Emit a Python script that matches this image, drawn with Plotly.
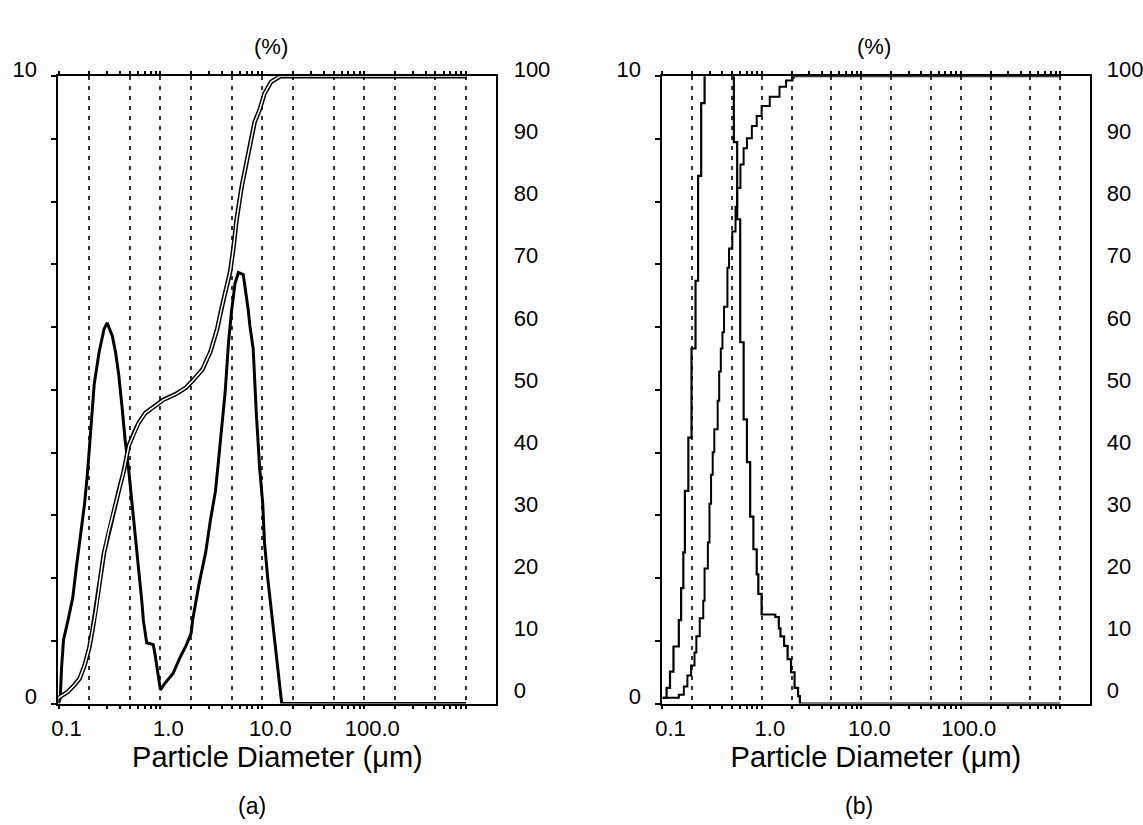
import plotly.graph_objects as go

FONT = "Liberation Sans, Arial, sans-serif"

# ---------------- data ----------------
# Panel (a): frequency (%) vs particle size (µm)
a_freq_size = [0.100, 0.104, 0.107, 0.112, 0.124, 0.138, 0.149, 0.167, 0.180, 0.193,
               0.208, 0.224, 0.250, 0.280, 0.300, 0.337, 0.363, 0.390, 0.420, 0.450,
               0.490, 0.525, 0.565, 0.610, 0.656, 0.680, 0.733, 0.850, 0.880, 0.950,
               1.000, 1.100, 1.330, 1.530, 1.780, 2.000, 2.070, 2.390, 2.780, 3.100,
               3.470, 3.730, 4.000, 4.330, 4.660, 5.000, 5.400, 5.820, 6.500, 7.000,
               7.280, 7.550, 8.130, 8.750, 9.420, 10.10, 10.50, 11.30, 12.20, 13.50,
               14.50, 15.50, 1000.0]
a_freq = [0.0, 0.09, 0.56, 1.02, 1.33, 1.69, 2.15, 2.72, 3.18, 3.70,
          4.42, 5.09, 5.60, 5.97, 6.07, 5.86, 5.60, 5.24, 4.73, 4.21,
          3.70, 3.18, 2.67, 2.15, 1.64, 1.33, 0.97, 0.94, 0.81, 0.45,
          0.22, 0.32, 0.48, 0.71, 0.92, 1.12, 1.33, 1.90, 2.41, 2.93,
          3.39, 3.90, 4.47, 4.99, 5.76, 6.27, 6.70, 6.87, 6.84, 6.48,
          6.27, 6.02, 5.66, 4.60, 3.75, 3.18, 2.57, 2.00, 1.53, 0.90,
          0.40, 0.0, 0.0]
# Panel (a): cumulative (%)
a_cum_size = [0.100, 0.107, 0.124, 0.144, 0.161, 0.180, 0.200, 0.216, 0.232, 0.260,
              0.280, 0.313, 0.350, 0.390, 0.436, 0.490, 0.550, 0.610, 0.710, 0.850,
              1.060, 1.430, 1.780, 2.070, 2.580, 3.100, 3.600, 4.000, 4.500, 4.840,
              5.200, 5.600, 6.270, 6.750, 7.550, 8.400, 9.400, 10.50, 12.20, 14.20,
              15.00, 1000.0]
a_cum = [0.0, 0.3, 1.0, 2.1, 3.1, 5.2, 8.0, 11.0, 14.0, 19.8,
         23.4, 27.0, 30.2, 33.3, 36.4, 40.6, 42.6, 44.2, 45.8, 46.8,
         47.9, 48.9, 49.9, 51.0, 52.8, 55.7, 59.3, 62.8, 66.5, 68.6,
         72.3, 77.0, 82.2, 84.8, 88.9, 92.6, 94.6, 97.2, 99.1, 99.7,
         100.0, 100.0]

# Panel (b): frequency (%) (stepped) and cumulative (%)
b_freq_size = [0.100, 0.110, 0.119, 0.129, 0.146, 0.154, 0.162, 0.168, 0.182, 0.196,
               0.215, 0.228, 0.245, 0.265, 0.284, 0.305, 0.327, 0.351, 0.377, 0.405,
               0.435, 0.467, 0.522, 0.564, 0.605, 0.655, 0.707, 0.762, 0.821, 0.887,
               0.920, 0.993, 1.364, 1.479, 1.537, 1.672, 1.814, 1.963, 2.131, 2.311,
               2.408, 1000.0]
b_freq = [0.09, 0.25, 0.51, 0.91, 1.33, 1.84, 2.41, 3.39, 4.24, 5.66,
          6.74, 8.41, 9.57, 11.2, 12.2, 12.8, 13.0, 12.7, 12.1, 11.4,
          10.8, 10.3, 8.95, 7.72, 5.76, 4.53, 3.85, 2.98, 2.46, 2.06,
          1.75, 1.42, 1.38, 1.20, 1.07, 0.92, 0.71, 0.50, 0.25, 0.12,
          0.0, 0.0]
b_cum_size = [0.100, 0.124, 0.146, 0.164, 0.178, 0.194, 0.210, 0.219, 0.237, 0.257,
              0.265, 0.286, 0.297, 0.308, 0.320, 0.332, 0.359, 0.372, 0.386, 0.401,
              0.416, 0.450, 0.467, 0.504, 0.543, 0.564, 0.608, 0.655, 0.707, 0.792,
              0.887, 0.993, 1.199, 1.503, 1.750, 2.030, 2.100, 1000.0]
b_cum = [0.0, 0.0, 0.5, 1.8, 3.6, 5.2, 7.3, 9.9, 12.8, 15.6,
         20.8, 25.0, 31.2, 35.9, 39.5, 43.2, 47.8, 52.5, 56.2, 58.8,
         62.9, 69.2, 72.3, 75.0, 79.0, 82.0, 85.8, 88.4, 90.0, 92.0,
         93.6, 95.2, 96.7, 98.3, 99.3, 99.8, 100.0, 100.0]

# Axis ticks / labels
x_label_vals = [0.1, 1, 10, 100]
x_label_text = ["0.1", "1.0", "10.0", "100.0"]
x_all_ticks = [m * 10.0 ** e for e in (-1, 0, 1, 2) for m in range(1, 10)] + [1000.0]
grid_vals = [0.2, 0.5, 1, 2, 5, 10, 20, 50, 100, 200, 500, 1000]
minor_top = [v for v in x_all_ticks if all(abs(v - g) > 1e-9 for g in grid_vals)]
left_vals = list(range(0, 11))
left_text = ["0"] + [""] * 9 + ["10"]
right_vals = list(range(0, 101, 10))
right_text = [str(v) for v in right_vals]

# ---------------- geometry ----------------
W, H = 1143, 825
ydom = [1 - 706 / H, 1 - 59 / H]
dom_a = [52 / W, 496 / W]
dom_b = [664 / W, 1097 / W]
xr_a = [-1.002, 3.298]
xr_b = [-1.002, 3.296]

fig = go.Figure()


def line(width, color="black", shape="linear"):
    return dict(color=color, width=width, shape=shape)


# panel (a)
fig.add_trace(go.Scatter(x=a_freq_size, y=a_freq, mode="lines", line=line(3),
                         xaxis="x", yaxis="y", hoverinfo="skip", showlegend=False))
fig.add_trace(go.Scatter(x=a_cum_size, y=a_cum, mode="lines", line=line(4.5),
                         xaxis="x3", yaxis="y2", hoverinfo="skip", showlegend=False))
fig.add_trace(go.Scatter(x=a_cum_size, y=a_cum, mode="lines", line=line(1.5, "white"),
                         xaxis="x3", yaxis="y2", hoverinfo="skip", showlegend=False))
# panel (b)
fig.add_trace(go.Scatter(x=b_freq_size, y=b_freq, mode="lines", line=line(2.2, shape="hv"),
                         xaxis="x2", yaxis="y3", hoverinfo="skip", showlegend=False))
fig.add_trace(go.Scatter(x=b_cum_size, y=b_cum, mode="lines", line=line(2, shape="hv"),
                         xaxis="x4", yaxis="y4", hoverinfo="skip", showlegend=False))

tickfont = dict(family=FONT, size=22, color="black")


def bottom_axis(domain, rng, anchor):
    return dict(domain=domain, anchor=anchor, type="log", range=rng,
                tickmode="array", tickvals=x_all_ticks,
                ticktext=[x_label_text[x_label_vals.index(v)] if v in x_label_vals else ""
                          for v in x_all_ticks],
                ticks="outside", ticklen=4, tickwidth=1.5, tickcolor="black",
                showline=True, linecolor="black", linewidth=1.5,
                showgrid=False, zeroline=False, tickfont=tickfont,
                ticklabelshift=8,
                title=dict(text="Particle Diameter (μm)",
                           font=dict(family=FONT, size=29, color="black"),
                           standoff=1))


def top_axis(over, rng, anchor):
    return dict(overlaying=over, anchor=anchor, side="top", type="log", range=rng,
                tickmode="array", tickvals=grid_vals, showticklabels=False,
                ticks="outside", ticklen=3, tickwidth=1.5, tickcolor="black",
                showline=True, linecolor="black", linewidth=1.5,
                showgrid=True, gridcolor="#333333", gridwidth=1.5,
                griddash="4px,6px", zeroline=False,
                minor=dict(tickmode="array", tickvals=minor_top, ticks="outside",
                           ticklen=3, tickwidth=1.5, tickcolor="black",
                           showgrid=False))


def left_axis(anchor):
    return dict(domain=ydom, anchor=anchor, range=[0, 10],
                tickmode="array", tickvals=left_vals, ticktext=left_text,
                ticks="outside", ticklen=5, tickwidth=1.5, tickcolor="black",
                showline=True, linecolor="black", linewidth=2,
                showgrid=False, zeroline=False, tickfont=tickfont,
                ticklabelshift=-7, ticklabelstandoff=10)


def right_axis(over, anchor):
    return dict(overlaying=over, anchor=anchor, side="right", range=[-0.936, 100],
                tickmode="array", tickvals=right_vals, ticktext=right_text,
                ticks="", showline=True, linecolor="black", linewidth=1.5,
                showgrid=False, zeroline=False, tickfont=tickfont,
                ticklabelshift=-7, ticklabelstandoff=11)


def label(text, x, y, size=22):
    return dict(text=text, x=x / W, y=1 - y / H, xref="paper", yref="paper",
                xanchor="center", yanchor="middle", showarrow=False,
                font=dict(family=FONT, size=size, color="black"))


fig.update_layout(
    width=W, height=H, margin=dict(l=0, r=0, t=0, b=0),
    paper_bgcolor="white", plot_bgcolor="white",
    font=dict(family=FONT, color="black"),
    showlegend=False,
    xaxis=bottom_axis(dom_a, xr_a, "y"),
    xaxis3=top_axis("x", xr_a, "y"),
    yaxis=left_axis("x"),
    yaxis2=right_axis("y", "x"),
    xaxis2=bottom_axis(dom_b, xr_b, "y3"),
    xaxis4=top_axis("x2", xr_b, "y3"),
    yaxis3=left_axis("x2"),
    yaxis4=right_axis("y3", "x2"),
    annotations=[
        label("(%)", 268, 28),
        label("(%)", 879, 28),
        label("(a)", 248, 812, 23),
        label("(b)", 863, 812, 23),
    ],
)

fig.write_html("out.html", config={"displayModeBar": False},
               post_script="document.body.style.margin='0';")
